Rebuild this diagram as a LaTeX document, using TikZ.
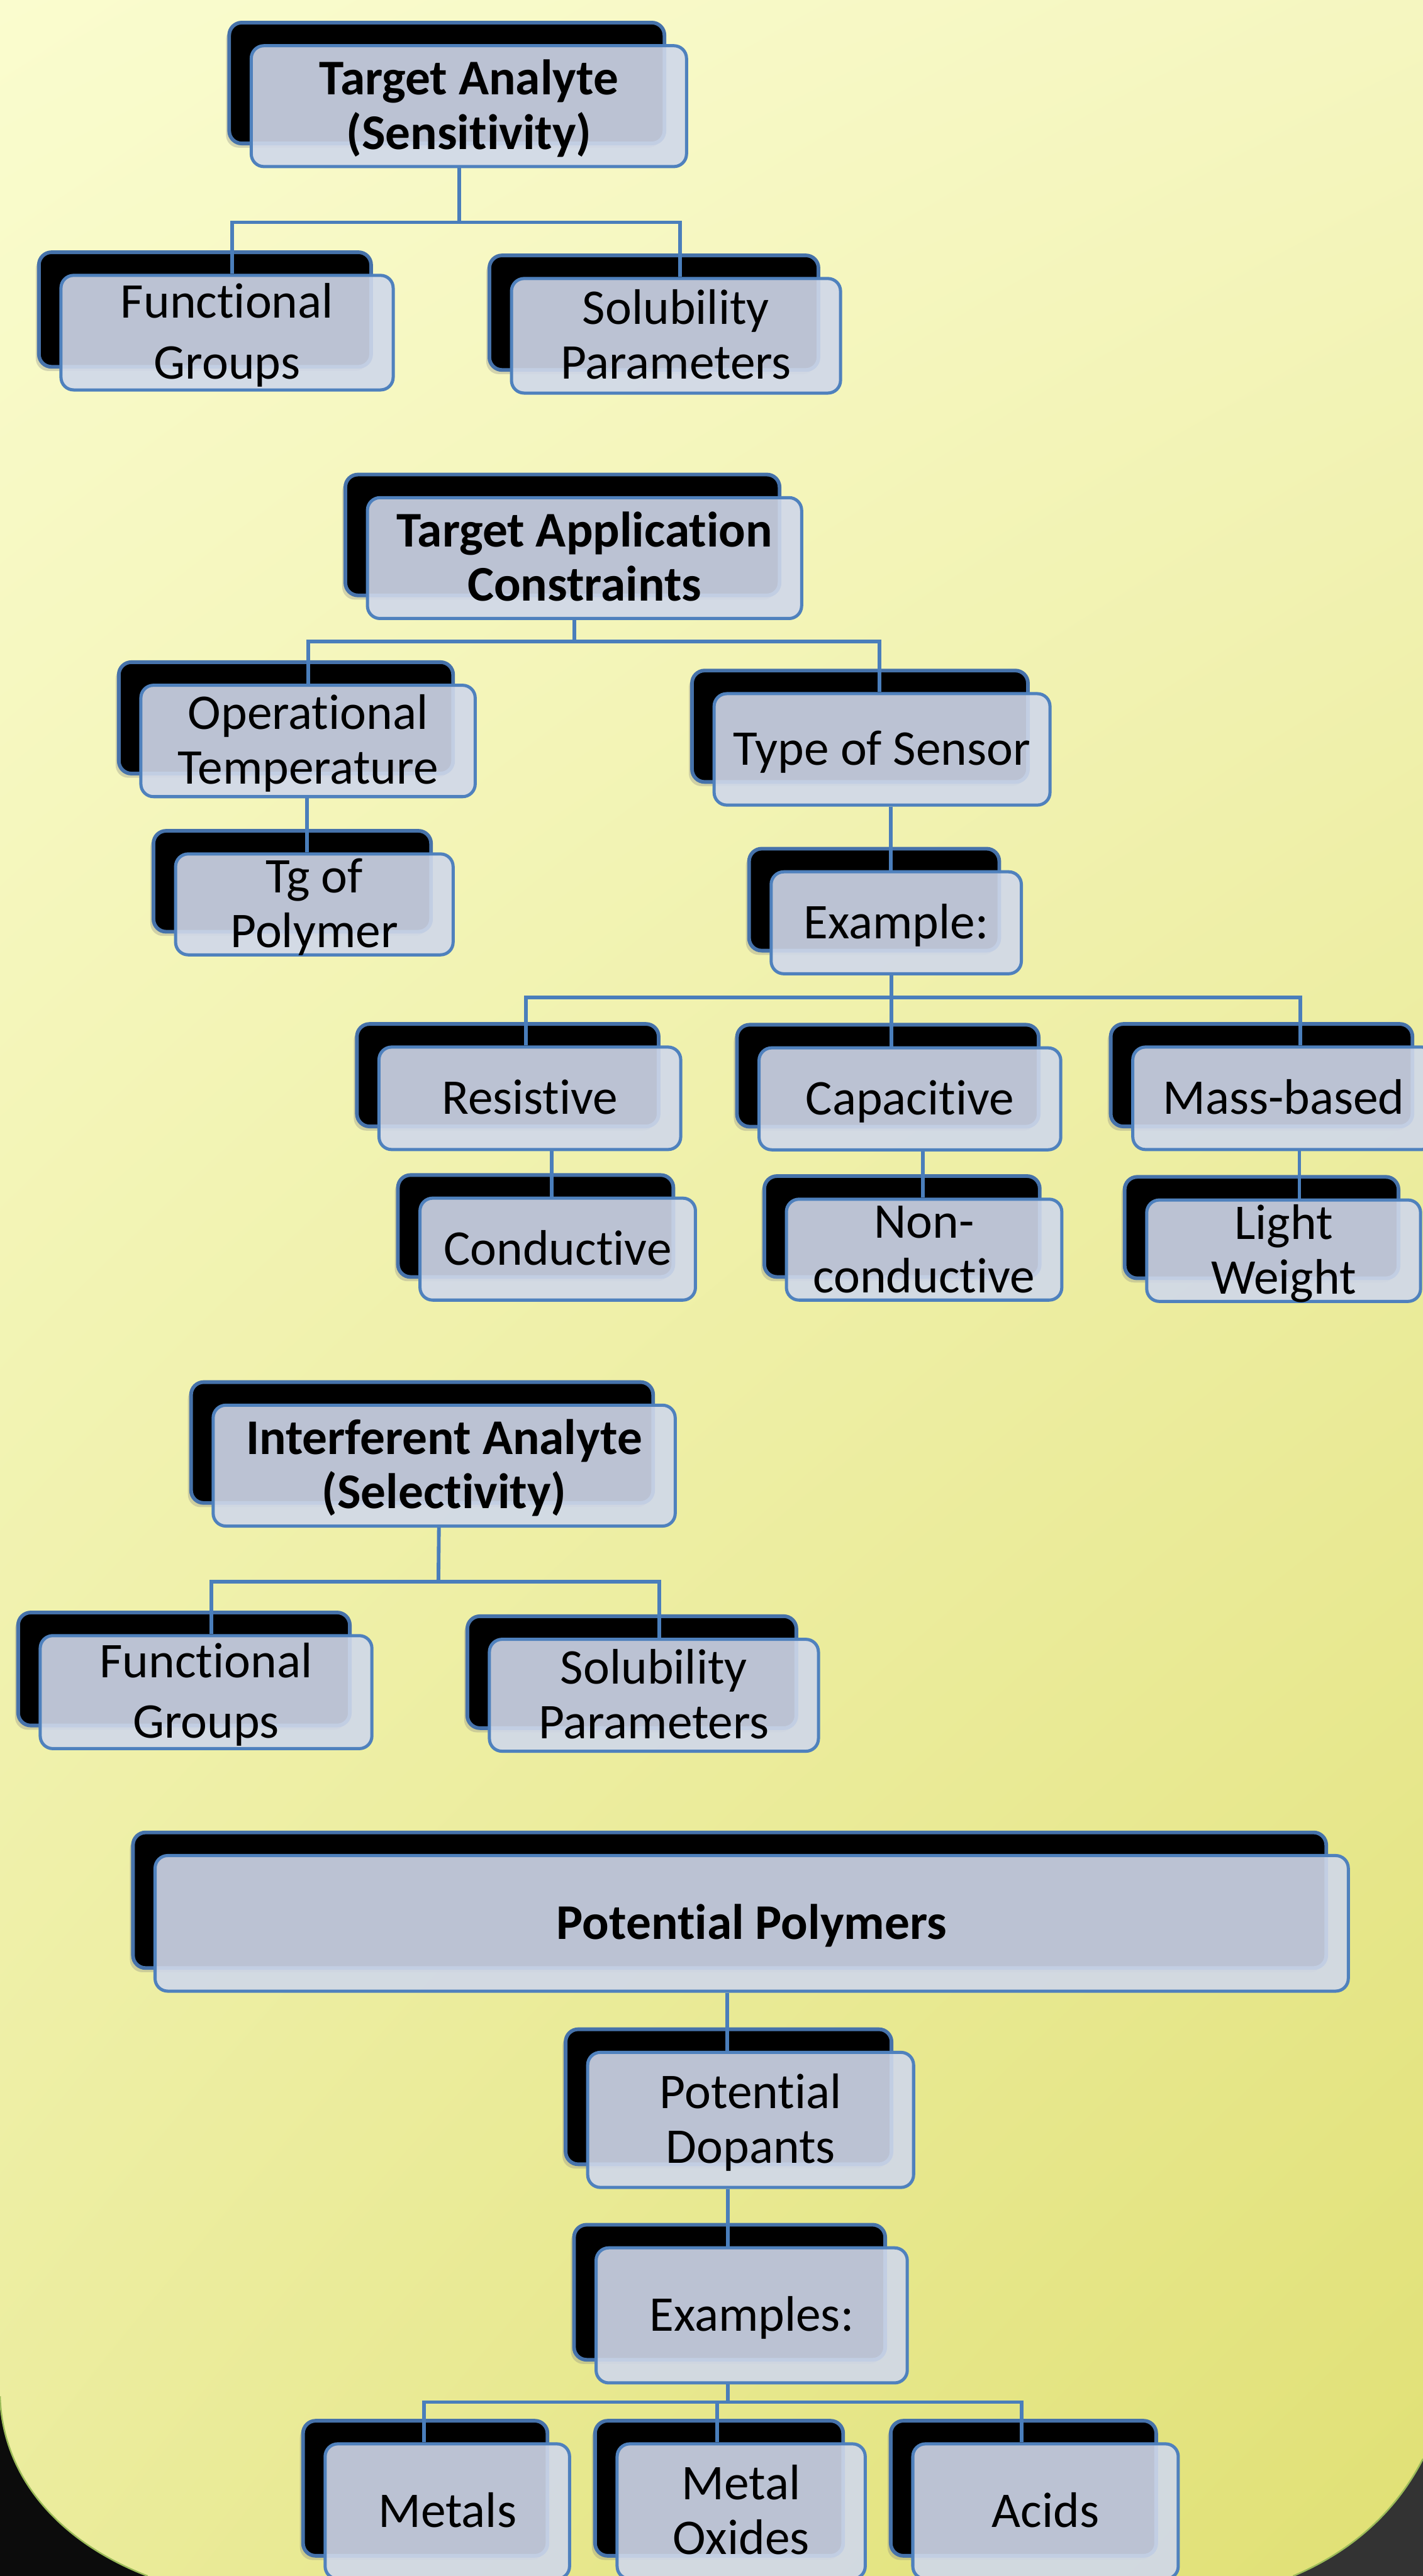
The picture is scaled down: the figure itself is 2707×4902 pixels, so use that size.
\documentclass[tikz,border=0pt]{standalone}
\usepackage{fontspec}
\setmainfont{Carlito}[Ligatures={NoCommon,NoContextual}]
\usetikzlibrary{shadows,shadings,calc}
\definecolor{bgUL}{RGB}{250,252,206}
\definecolor{bgUR}{RGB}{245,246,192}
\definecolor{bgLL}{RGB}{235,236,156}
\definecolor{bgLR}{RGB}{224,224,116}
\definecolor{boxblue}{RGB}{79,129,189}
\definecolor{backblue}{RGB}{70,114,170}
\definecolor{lineblue}{RGB}{74,126,187}
\definecolor{frontfill}{RGB}{208,216,234}
\definecolor{cornerA}{RGB}{12,12,12}
\definecolor{cornerB}{RGB}{51,51,51}
\definecolor{edgegreen}{RGB}{155,187,89}
\pgfdeclarelayer{bg}\pgfdeclarelayer{backl}\pgfdeclarelayer{connl}
\pgfsetlayers{bg,backl,connl,main}
\newcommand\regf{\fontsize{95}{104}\selectfont}
\newcommand\bldf{\fontsize{95}{104}\selectfont\bfseries}
\newcommand\widef{\fontsize{95}{115}\selectfont}
\tikzset{
 backbox/.style={draw=backblue, line width=7pt, fill=black, rounded corners=24pt, inner sep=0pt,
   drop shadow={shadow xshift=-6pt, shadow yshift=-8pt, opacity=0.3}},
 frontbox/.style={draw=boxblue, line width=6pt, fill=frontfill, fill opacity=0.9, text opacity=1,
   draw opacity=1, rounded corners=24pt, inner sep=0pt, text height=60pt, text=black},
 conn/.style={draw=lineblue, line width=7pt},
 edgeline/.style={draw=edgegreen, line width=3pt},
}
% #1 name, #2 cx, #3 cy, #4 w, #5 h, #6 text depth, #7 font, #8 text
\newcommand\boxpair[8]{%
  \begin{pgfonlayer}{backl}
    \node[backbox, minimum width=#4pt, minimum height=#5pt] (#1b) at ({#2-42},{#3-44}) {};
  \end{pgfonlayer}
  \node[frontbox, minimum width=#4pt, minimum height=#5pt, text depth=#6pt, font=#7] (#1) at (#2,#3)
    {\begin{tabular}[t]{@{}c@{}}#8\end{tabular}};
}
\begin{document}
\begin{tikzpicture}[x=1pt,y=-1pt]
\useasboundingbox (0,0) rectangle (2707,4902);
\begin{pgfonlayer}{bg}
  \shade[upper left=bgUL, upper right=bgUR, lower left=bgLL, lower right=bgLR] (0,0) rectangle (2707,4902);
  \fill[cornerA] (0,4560) .. controls (5,4720) and (120,4840) .. (281,4902) -- (0,4902) -- cycle;
  \draw[edgeline] (0,4560) .. controls (5,4720) and (120,4840) .. (281,4902);
  \fill[cornerB] (2707,4679) .. controls (2650,4790) and (2560,4860) .. (2460,4902) -- (2707,4902) -- cycle;
  \draw[edgeline] (2707,4679) .. controls (2650,4790) and (2560,4860) .. (2460,4902);
\end{pgfonlayer}

\boxpair{A}{892}{202}{828}{230}{104}{\bldf}{Target Analyte\\(Sensitivity)}
\boxpair{B1}{432}{633}{632}{218}{115}{\widef}{Functional\\Groups}
\boxpair{B2}{1286}{639}{626}{218}{104}{\regf}{Solubility\\Parameters}
\boxpair{C}{1112}{1062}{826}{230}{104}{\bldf}{Target Application\\Constraints}
\boxpair{D1}{586}{1410}{636}{212}{104}{\regf}{Operational\\Temperature}
\boxpair{D2}{1678}{1426}{639}{212}{0}{\regf}{Type of Sensor}
\boxpair{E}{598}{1721}{528}{192}{104}{\regf}{Tg of\\Polymer}
\boxpair{F}{1705}{1756}{476}{194}{0}{\regf}{Example:}
\boxpair{G1}{1008}{2090}{574}{195}{0}{\regf}{Resistive}
\boxpair{G2}{1731}{2091}{574}{194}{0}{\regf}{Capacitive}
\boxpair{G3}{2442}{2090}{574}{195}{0}{\regf}{Mass-based}
\boxpair{H1}{1061}{2377}{524}{194}{0}{\regf}{Conductive}
\boxpair{H2}{1758}{2378}{524}{192}{104}{\regf}{Non-\\conductive}
\boxpair{H3}{2442}{2380}{521}{193}{104}{\regf}{Light\\Weight}
\boxpair{I}{845}{2789}{879}{230}{104}{\bldf}{Interferent Analyte\\(Selectivity)}
\boxpair{J1}{392}{3220}{631}{215}{115}{\widef}{Functional\\Groups}
\boxpair{J2}{1244}{3226}{626}{213}{104}{\regf}{Solubility\\Parameters}
\boxpair{K}{1430}{3660}{2270}{258}{0}{\bldf}{Potential Polymers}
\boxpair{L}{1428}{4034}{620}{257}{104}{\regf}{Potential\\Dopants}
\boxpair{M}{1430}{4406}{592}{257}{0}{\regf}{Examples:}
\boxpair{N1}{851}{4779}{465}{257}{0}{\regf}{Metals}
\boxpair{N2}{1410}{4779}{472}{257}{104}{\regf}{Metal\\Oxides}
\boxpair{N3}{1989}{4779}{505}{257}{0}{\regf}{Acids}

\begin{pgfonlayer}{connl}
  % Target Analyte
  \coordinate (Aj) at (874,423);
  \draw[conn] ([xshift=-18pt]A.south) -- (Aj);
  \draw[conn] ([xshift=10pt]B1.north) |- (Aj) -| ([xshift=8pt]B2.north);
  % Target Application Constraints
  \coordinate (Cj) at (1093,1221);
  \draw[conn] ([xshift=-19pt]C.south) -- (Cj);
  \draw[conn] (D1.north) |- (Cj) -| ([xshift=-5pt]D2.north);
  \draw[conn] ([xshift=-14pt]E.north) -- ([xshift=-14pt]E.north |- D1.south);
  \draw[conn] ([xshift=17pt]D2.south) -- ([xshift=-10pt]F.north);
  \coordinate (Fj) at (1696,1898);
  \draw[conn] ([xshift=-9pt]F.south) -- (Fj);
  \draw[conn] ([xshift=-8pt]G1.north) |- (Fj) -| ([xshift=32pt]G3.north);
  \draw[conn] ([xshift=-35pt]G2.north) -- ([xshift=-35pt]G2.north |- Fj);
  \draw[conn] ([xshift=42pt]G1.south) -- ([xshift=-11pt]H1.north);
  \draw[conn] ([xshift=25pt]G2.south) -- ([xshift=-2pt]H2.north);
  \draw[conn] ([xshift=30pt]G3.south) -- ([xshift=30pt]H3.north);
  % Interferent Analyte
  \coordinate (Ij) at (834,3010);
  \draw[conn] ([xshift=-10pt]I.south) -- (Ij);
  \draw[conn] ([xshift=10pt]J1.north) |- (Ij) -| ([xshift=10pt]J2.north);
  % Potential Polymers
  \draw[conn] ([xshift=-47pt]K.south) -- ([xshift=-45pt]L.north);
  \draw[conn] ([xshift=-43pt]L.south) -- ([xshift=-45pt]M.north);
  \coordinate (Mj) at (1385,4571);
  \draw[conn] ([xshift=-45pt]M.south) -- (Mj);
  \draw[conn] ([xshift=-44pt]N1.north) |- (Mj) -| ([xshift=-45pt]N3.north);
  \draw[conn] ([xshift=-46pt]N2.north) -- ([xshift=-46pt]N2.north |- Mj);
\end{pgfonlayer}
\end{tikzpicture}
\end{document}
